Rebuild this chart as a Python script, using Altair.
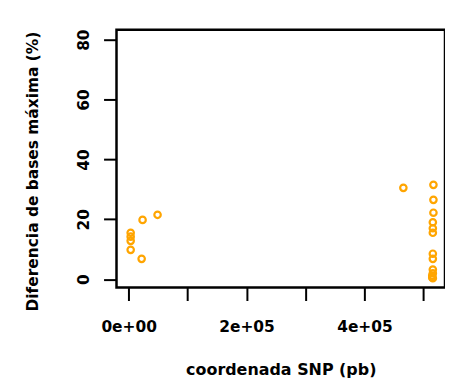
import altair as alt
import pandas as pd

# data
snp_pos = [3400, 3400, 3400, 3400, 22000, 23600, 49000,
           466000,
           517000, 517000, 517000, 516000, 516000, 516000, 516000,
           516000, 516000, 516000, 515000, 515000, 516000]
diff_pct = [15.5, 14.2, 12.8, 9.8, 6.8, 19.8, 21.5,
            30.5,
            31.5, 26.5, 22.2, 19.0, 17.0, 15.5, 8.5,
            6.8, 3.2, 2.0, 1.2, 0.6, 0.3]

x_ticks = [0, 100000, 200000, 300000, 400000, 500000]
x_tick_labels = ["0e+00", "", "2e+05", "", "4e+05", ""]
y_ticks = [0, 20, 40, 60, 80]

df = pd.DataFrame({"pos": snp_pos, "diff": diff_pct})

label_expr = " : ".join(
    f"datum.value == {v} ? '{l}'" for v, l in zip(x_ticks, x_tick_labels)
) + " : ''"

FONT = "DejaVu Sans"

chart = alt.Chart(df).mark_point(
    shape="circle", filled=False, color="#FFA500", strokeWidth=2.2, size=42,
    opacity=1
).encode(
    x=alt.X("pos:Q",
            scale=alt.Scale(domain=[-20640, 536640], nice=False, zero=False),
            axis=alt.Axis(values=x_ticks, labelExpr=label_expr,
                          title="coordenada SNP (pb)", grid=False, domain=False,
                          tickColor="black", tickWidth=2, tickSize=13,
                          labelPadding=19, labelFontSize=15.5, labelFont=FONT,
                          labelFontWeight="bold", labelColor="black",
                          titleFontSize=16, titleFont=FONT, titleFontWeight="bold",
                          titleColor="black", titlePadding=27, labelFlush=False,
                          labelOverlap=False)),
    y=alt.Y("diff:Q",
            scale=alt.Scale(domain=[-2.8, 83.3], nice=False, zero=False),
            axis=alt.Axis(values=y_ticks, title="Diferencia de bases máxima (%)",
                          grid=False, domain=False, tickColor="black", tickWidth=2,
                          tickSize=13, labelAngle=-90, labelAlign="center",
                          labelBaseline="bottom", labelPadding=12,
                          labelFontSize=15.5, labelFont=FONT, labelFontWeight="bold",
                          labelColor="black", titleFontSize=15.5, titleFont=FONT,
                          titleFontWeight="bold", titleColor="black",
                          titlePadding=36, titleY=142,
                          labelFlush=False, labelOverlap=False)),
).properties(
    width=330, height=259,
    autosize=alt.AutoSizeParams(type="none"),
    padding={"left": 109, "top": 21, "right": 0, "bottom": 92},
).configure(background="white").configure_view(
    stroke="black", strokeWidth=2.5
)

chart.save("out.html", embed_options={"renderer": "svg", "actions": False})
